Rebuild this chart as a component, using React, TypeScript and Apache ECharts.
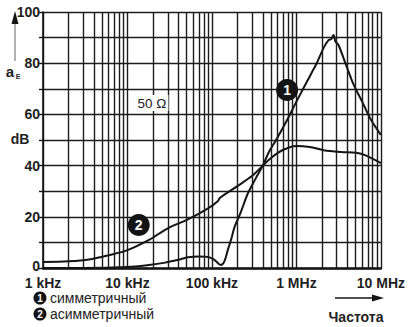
import React, { useEffect, useRef } from 'react';
import * as echarts from 'echarts';

// Frequencies in kHz, attenuation in dB
const freqTicks = [1, 10, 100, 1000, 10000];
const freqTickLabels = ['1 kHz', '10 kHz', '100 kHz', '1 MHz', '10 MHz'];
const minorFreqs = [
  2, 3, 4, 5, 6, 7, 8, 9,
  20, 30, 40, 50, 60, 70, 80, 90,
  200, 300, 400, 500, 600, 700, 800, 900,
  2000, 3000, 4000, 5000, 6000, 7000, 8000, 9000,
];

const symFreq = [1, 3, 10, 18, 27, 40, 52, 70, 90, 105, 117, 127, 140, 154, 170, 185, 218, 265, 330, 400, 476, 575, 776, 1000, 1500, 1740, 2100, 2400, 2600, 2750, 2900, 3160, 3800, 4700, 6000, 7600, 10000];
const symDb = [0, 0, 0.4, 1.2, 2.0, 3.2, 4.2, 4.5, 4.3, 3.4, 2.0, 1.2, 2.5, 7, 11.5, 16, 21.5, 29, 35, 40, 45.5, 50, 57.8, 65, 76, 80, 86, 89, 89.5, 91, 88.5, 87, 80, 72, 65, 58, 52];

const asymFreq = [1, 2, 3.5, 6, 10, 18, 30, 52, 90, 118, 124, 200, 300, 400, 500, 680, 1000, 1440, 2100, 3400, 5100, 6600, 10000];
const asymDb = [2.3, 2.6, 3.3, 5, 7, 11, 15.5, 19, 23.3, 26.2, 27.4, 32, 36, 40, 43, 46, 47.7, 47.3, 46, 45.3, 45, 44, 41];

const markerPos1 = [776, 69.5];
const markerPos2 = [13.6, 16.8];
const legendLabels = ['симметричный', 'асимметричный'];
const legendNums = ['1', '2'];
const impedanceLabel = '50 Ω';
const xTitle = 'Частота';

const FONT = '"Liberation Sans", Arial, Helvetica, sans-serif';
const INK = '#141414';

export default function App() {
  const ref = useRef<HTMLDivElement>(null);
  useEffect(() => {
    if (!ref.current) return;
    const chart = echarts.init(ref.current, null, { renderer: 'svg' });
    const tickLabelMap: Record<number, string> = {};
    freqTicks.forEach((f, i) => (tickLabelMap[f] = freqTickLabels[i]));

    const gridLine = { color: '#1c1c1c', width: 1.4 };

    const marker = (coord: number[], txt: string) => ({
      symbol: 'circle',
      symbolSize: 22,
      silent: true,
      itemStyle: { color: INK },
      label: {
        show: true,
        position: 'inside',
        formatter: txt,
        color: '#fff',
        fontWeight: 'bold',
        fontSize: 14,
        fontFamily: FONT,
      },
      data: [{ coord }],
    });

    const legendGraphics: any[] = [];
    legendLabels.forEach((t, i) => {
      const cy = 298 + i * 16;
      legendGraphics.push({
        type: 'circle',
        shape: { cx: 40, cy, r: 6.5 },
        style: { fill: INK },
      });
      legendGraphics.push({
        type: 'text',
        x: 40,
        y: cy,
        style: {
          text: legendNums[i],
          fill: '#fff',
          font: `bold 10px ${FONT}`,
          textAlign: 'center',
          textVerticalAlign: 'middle',
        },
      });
      legendGraphics.push({
        type: 'text',
        x: 50,
        y: cy,
        style: {
          text: t,
          fill: '#222',
          font: `14px ${FONT}`,
          textAlign: 'left',
          textVerticalAlign: 'middle',
        },
      });
    });

    const labelStyle = {
      color: '#1e1e1e',
      fontSize: 14,
      fontWeight: 'bold',
      fontFamily: FONT,
    };

    chart.setOption({
      animation: false,
      backgroundColor: '#fff',
      grid: { left: 43, top: 12, width: 342, height: 256, containLabel: false },
      xAxis: {
        type: 'log',
        logBase: 10,
        min: 1,
        max: 10000,
        axisLine: { show: true, lineStyle: { color: INK, width: 2.5 } },
        axisTick: { show: false },
        splitLine: { show: true, lineStyle: gridLine },
        axisLabel: {
          ...labelStyle,
          lineHeight: 13,
          margin: 8,
          formatter: (v: number) => tickLabelMap[Math.round(v)] ?? '',
        },
      },
      yAxis: {
        type: 'value',
        min: 0,
        max: 100,
        interval: 10,
        axisLine: { show: true, lineStyle: { color: INK, width: 1.6 } },
        axisTick: { show: true, length: 4, lineStyle: { color: INK, width: 1.4 } },
        splitLine: { show: true, lineStyle: gridLine },
        axisLabel: {
          ...labelStyle,
          lineHeight: 12,
          margin: 3,
          formatter: (v: number) => (v === 0 ? '{zero|0}' : v % 20 === 0 ? String(v) : ''),
          rich: {
            zero: { ...labelStyle, lineHeight: 12, padding: [0, 0, 5, 0] },
          },
        },
      },
      series: [
        {
          type: 'line',
          name: 'grid',
          data: [],
          z: 1,
          silent: true,
          markLine: {
            silent: true,
            symbol: 'none',
            label: { show: false },
            lineStyle: { color: '#1c1c1c', width: 1.4, type: 'solid' },
            data: minorFreqs.map((f) => ({ xAxis: f })),
          },
        },
        {
          type: 'line',
          name: legendLabels[0],
          z: 3,
          data: symFreq.map((f, i) => [f, symDb[i]]),
          showSymbol: false,
          smooth: 0.3,
          lineStyle: { color: INK, width: 2 },
          markPoint: marker(markerPos1, legendNums[0]),
        },
        {
          type: 'line',
          name: legendLabels[1],
          z: 3,
          data: asymFreq.map((f, i) => [f, asymDb[i]]),
          showSymbol: false,
          smooth: 0.3,
          lineStyle: { color: INK, width: 2 },
          markPoint: marker(markerPos2, legendNums[1]),
        },
      ],
      graphic: [
        {
          type: 'line',
          shape: { x1: 15, y1: 61, x2: 15, y2: 22 },
          style: { stroke: '#888', lineWidth: 1.3 },
        },
        {
          type: 'polygon',
          shape: { points: [[15, 11], [11.5, 24], [18.5, 24]] },
          style: { fill: INK },
        },
        {
          type: 'text',
          x: 10,
          y: 71,
          style: { text: 'a', fill: '#222', font: `bold 15px ${FONT}`, textAlign: 'center', textVerticalAlign: 'middle' },
        },
        {
          type: 'text',
          x: 18,
          y: 76,
          style: { text: 'E', fill: '#222', font: `bold 7px ${FONT}`, textAlign: 'center', textVerticalAlign: 'middle' },
        },
        {
          type: 'text',
          x: 20,
          y: 139,
          style: { text: 'dB', fill: '#222', font: `bold 14px ${FONT}`, textAlign: 'center', textVerticalAlign: 'middle' },
        },
        {
          type: 'text',
          x: 152,
          y: 103,
          z: 10,
          style: {
            text: impedanceLabel,
            fill: '#222',
            font: `13.5px ${FONT}`,
            textAlign: 'center',
            textVerticalAlign: 'middle',
            backgroundColor: '#fff',
            padding: [1, 2],
          },
        },
        ...legendGraphics,
        {
          type: 'line',
          shape: { x1: 335, y1: 298, x2: 375, y2: 298 },
          style: { stroke: INK, lineWidth: 1.3 },
        },
        {
          type: 'polygon',
          shape: { points: [[384, 298], [372, 294.5], [372, 301.5]] },
          style: { fill: INK },
        },
        {
          type: 'text',
          x: 356,
          y: 317,
          style: { text: xTitle, fill: '#222', font: `bold 14px ${FONT}`, textAlign: 'center', textVerticalAlign: 'middle' },
        },
      ],
    });
    return () => chart.dispose();
  }, []);
  return (
    <div
      ref={ref}
      style={{ position: 'fixed', left: 0, top: 0, width: 408, height: 327, background: '#fff' }}
    />
  );
}
